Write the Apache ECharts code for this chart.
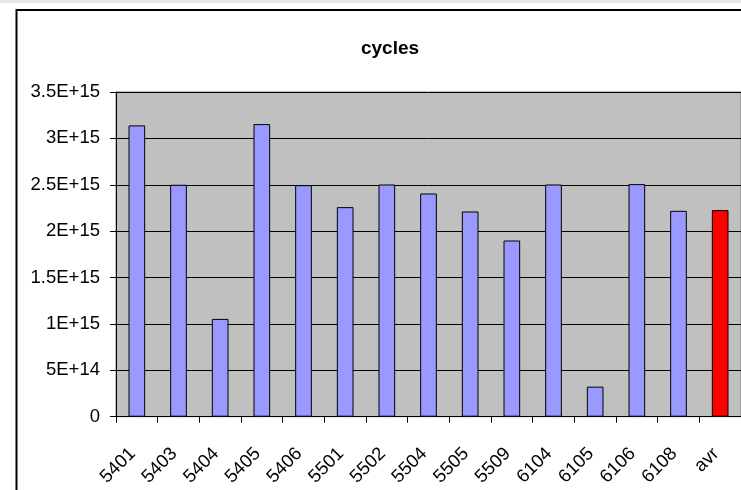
<!DOCTYPE html>
<html>
<head>
<meta charset="utf-8">
<script src="https://cdn.jsdelivr.net/npm/echarts@6/dist/echarts.min.js"></script>
<style>
html,body{margin:0;padding:0;background:#fff;}
#c{width:741px;height:490px;}
</style>
</head>
<body>
<div id="c"></div>
<script>
var categories = ['5401','5403','5404','5405','5406','5501','5502','5504','5505','5509','6104','6105','6106','6108','avr'];
var cycles = [3.14e15, 2.50e15, 1.054e15, 3.154e15, 2.496e15, 2.259e15, 2.503e15, 2.406e15, 2.212e15, 1.899e15, 2.503e15, 0.324e15, 2.507e15, 2.219e15, 2.227e15];
var yTickValues = [0, 5e14, 1e15, 1.5e15, 2e15, 2.5e15, 3e15, 3.5e15];
var yTickLabels = ['0', '5E+14', '1E+15', '1.5E+15', '2E+15', '2.5E+15', '3E+15', '3.5E+15'];
var highlightCategory = 'avr';

var FONT = '"Liberation Sans", Arial, sans-serif';
var chart = echarts.init(document.getElementById('c'), null, {renderer: 'canvas'});

var barData = cycles.map(function (v, i) {
  var item = {value: v};
  if (categories[i] === highlightCategory) {
    item.itemStyle = {color: '#ff0000'};
  }
  return item;
});

chart.setOption({
  animation: false,
  backgroundColor: '#ffffff',
  title: {
    text: 'cycles',
    left: 385,
    top: 34,
    textAlign: 'center',
    textStyle: {fontFamily: FONT, fontSize: 19, fontWeight: 'bold', color: '#000'}
  },
  graphic: [
    {type: 'rect', silent: true, z: -10, shape: {x: 0, y: 0, width: 741, height: 3}, style: {fill: '#e8e8e8'}},
    {type: 'rect', silent: true, z: 100, shape: {x: 16.5, y: 10, width: 800, height: 600}, style: {fill: 'none', stroke: '#000', lineWidth: 2}}
  ],
  grid: {
    left: 116,
    top: 92,
    width: 629,
    height: 324.7,
    show: true,
    backgroundColor: '#c0c0c0',
    borderColor: '#808080',
    borderWidth: 1
  },
  xAxis: {
    type: 'category',
    data: categories,
    boundaryGap: true,
    axisLine: {show: true, lineStyle: {color: '#000', width: 1}},
    axisTick: {show: true, length: 6, inside: false, alignWithLabel: false, interval: 0, lineStyle: {color: '#000'}},
    axisLabel: {
      interval: 0,
      rotate: 45,
      margin: 30,
      padding: [0, 6, 0, 0],
      fontFamily: FONT,
      fontSize: 18.5,
      color: '#000'
    },
    splitLine: {show: false}
  },
  yAxis: {
    type: 'value',
    min: 0,
    max: 3.5e15,
    interval: 5e14,
    axisLine: {show: true, lineStyle: {color: '#000', width: 1}},
    axisTick: {show: true, length: 6, inside: false, lineStyle: {color: '#000'}},
    axisLabel: {
      margin: 16,
      fontFamily: FONT,
      fontSize: 18.5,
      color: '#000',
      formatter: function (v) {
        for (var i = 0; i < yTickValues.length; i++) {
          if (Math.abs(yTickValues[i] - v) < 1e10) return yTickLabels[i];
        }
        return '';
      }
    },
    splitLine: {show: true, lineStyle: {color: '#000', width: 1}}
  },
  series: [{
    type: 'bar',
    data: barData,
    barWidth: '40%',
    itemStyle: {color: '#9999ff', borderColor: '#000', borderWidth: 1}
  }]
});
</script>
</body>
</html>
